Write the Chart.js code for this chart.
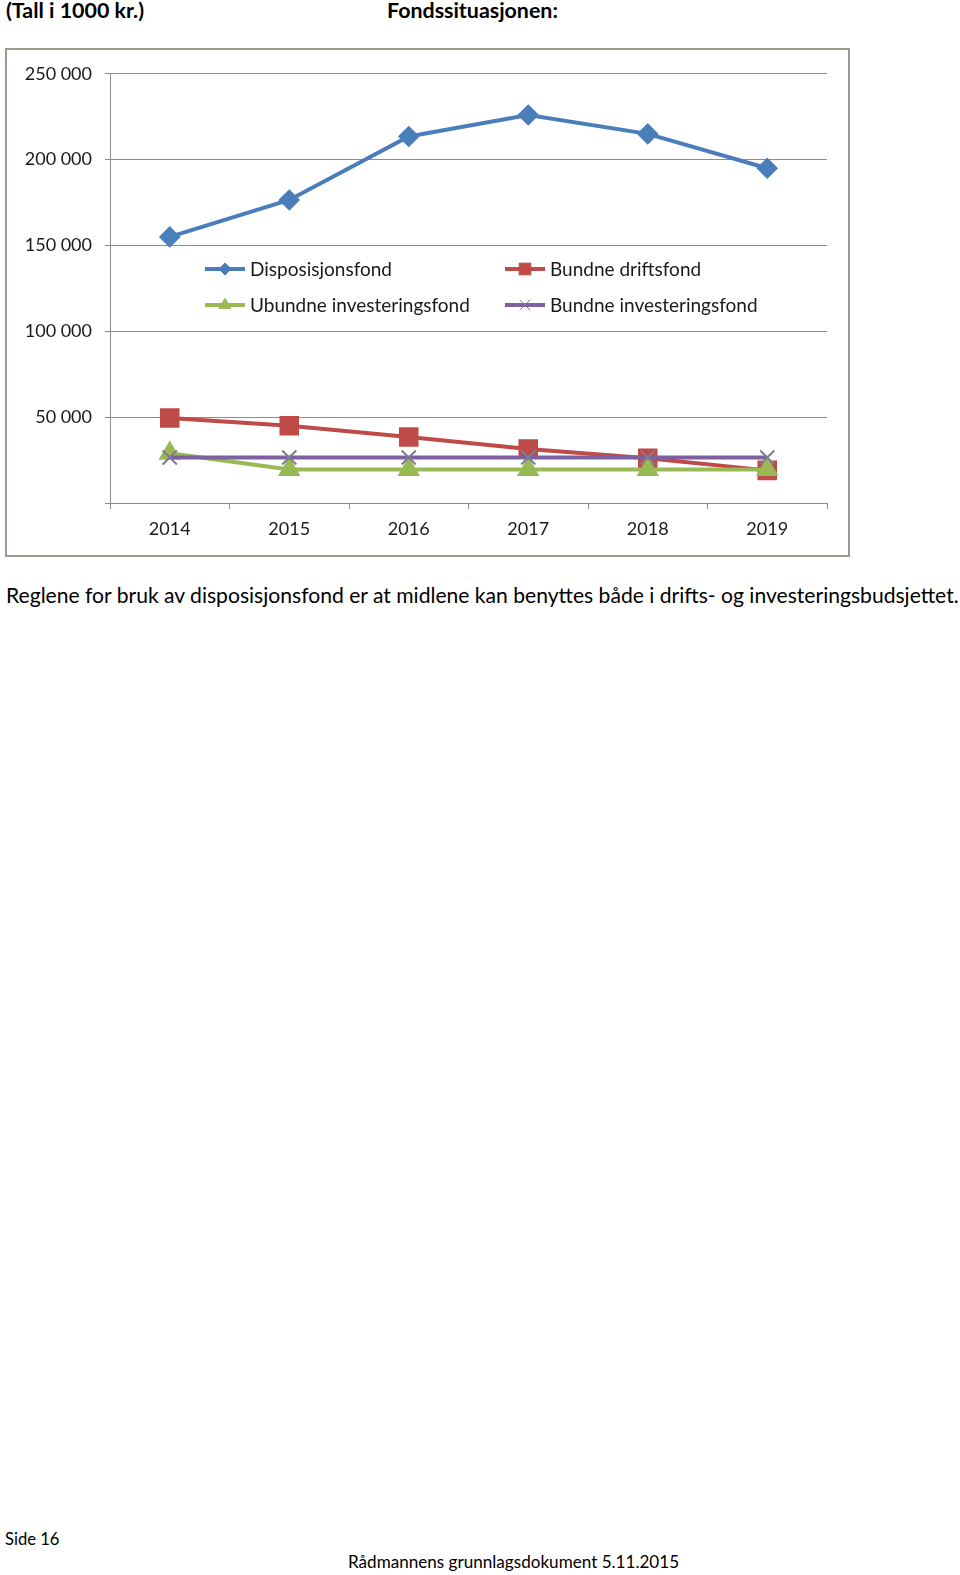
<!DOCTYPE html>
<html>
<head>
<meta charset="utf-8">
<script src="https://cdn.jsdelivr.net/npm/chart.js@4/dist/chart.umd.min.js"></script>
<style>
  body { margin: 0; background: #fff; width: 960px; height: 1575px; position: relative; overflow: hidden; font-family: Lato, 'Open Sans', sans-serif; color: #000; }
  .txt { position: absolute; white-space: nowrap; }
  .bold { font-weight: bold; }
  #frame { position: absolute; left: 5px; top: 48px; width: 841px; height: 505px; border: 2px solid #9c9a8e; }
  #chart { display: block; }
</style>
</head>
<body>
<div class="txt bold" style="left:6px; top:-3px; font-size:21.4px;">(Tall i 1000 kr.)</div>
<div class="txt bold" style="left:387px; top:-3px; font-size:21.4px;">Fondssituasjonen:</div>

<div id="frame"><canvas id="chart" width="841" height="505"></canvas></div>

<div class="txt" id="para" style="left:6px; top:582px; font-size:21.1px;">Reglene for bruk av disposisjonsfond er at midlene kan benyttes både i drifts- og investeringsbudsjettet.</div>

<div class="txt" style="left:5px; top:1529px; font-size:16.6px;">Side 16</div>
<div class="txt" style="left:348px; top:1551px; font-size:17.1px;">Rådmannens grunnlagsdokument 5.11.2015</div>

<script>
// years on the x axis
const years = ['2014', '2015', '2016', '2017', '2018', '2019']

// fund balances (1000 kr)
const disposisjonsfond = [155000, 176500, 213500, 226000, 215000, 195000]
const bundneDriftsfond = [49500, 45000, 38500, 31500, 26000, 19000]
const ubundneInvestering = [29000, 19500, 19500, 19500, 19500, 19500]
const bundneInvestering = [26500, 26500, 26500, 26500, 26500, 26500]

const seriesNames = ['Disposisjonsfond', 'Bundne driftsfond', 'Ubundne investeringsfond', 'Bundne investeringsfond']
const yTicks = [0, 50000, 100000, 150000, 200000, 250000]

const colors = {
  blue: '#4a7ebb',
  red: '#be4b48',
  green: '#98b954',
  purple: '#7d60a0',
  cross: '#7f7a96',
  grid: '#8c8c8c',
}

const font = { family: 'Lato', size: 18 }

function fmt(v) {
  return String(v).replace(/\B(?=(\d{3})+(?!\d))/g, ' ')
}

// legend drawn inside the plot, two columns, like the original
const insideLegend = {
  id: 'insideLegend',
  afterDatasetsDraw(chart) {
    const ctx = chart.ctx
    const spots = [
      [0, 198, 219],
      [1, 498, 219],
      [2, 198, 255],
      [3, 498, 255],
    ]
    ctx.save()
    ctx.font = '19px Lato'
    ctx.textBaseline = 'middle'
    spots.forEach(([i, x, y]) => {
      const ds = chart.data.datasets[i]
      ctx.strokeStyle = ds.borderColor
      ctx.lineWidth = 4
      ctx.beginPath()
      ctx.moveTo(x, y)
      ctx.lineTo(x + 40, y)
      ctx.stroke()
      ctx.fillStyle = ds.pointBackgroundColor
      ctx.strokeStyle = ds.pointBorderColor
      ctx.lineWidth = 1
      Chart.helpers.drawPoint(ctx, { pointStyle: ds.pointStyle, radius: ds.pointRadius * 0.75, borderWidth: 1 }, x + 20, y)
      ctx.fillStyle = '#1a1a1a'
      ctx.fillText(ds.label, x + 45, y + 1)
    })
    ctx.restore()
  },
}

const ctx = document.getElementById('chart').getContext('2d')
new Chart(ctx, {
  type: 'line',
  data: {
    labels: years,
    datasets: [
      {
        label: seriesNames[0],
        data: disposisjonsfond,
        borderColor: colors.blue,
        borderWidth: 4,
        pointStyle: 'rectRot',
        pointRadius: 8,
        pointBackgroundColor: colors.blue,
        pointBorderColor: colors.blue,
        order: 4,
      },
      {
        label: seriesNames[1],
        data: bundneDriftsfond,
        borderColor: colors.red,
        borderWidth: 4,
        pointStyle: 'rect',
        pointRadius: 11,
        pointBackgroundColor: colors.red,
        pointBorderColor: colors.red,
        order: 3,
      },
      {
        label: seriesNames[2],
        data: ubundneInvestering,
        borderColor: colors.green,
        borderWidth: 4,
        pointStyle: 'triangle',
        pointRadius: 9,
        pointBackgroundColor: colors.green,
        pointBorderColor: colors.green,
        order: 2,
      },
      {
        label: seriesNames[3],
        data: bundneInvestering,
        borderColor: colors.purple,
        borderWidth: 4,
        pointStyle: 'crossRot',
        pointRadius: 10,
        pointBorderWidth: 2,
        pointBackgroundColor: colors.cross,
        pointBorderColor: colors.cross,
        order: 1,
      },
    ],
  },
  options: {
    responsive: false,
    animation: false,
    tension: 0,
    layout: { padding: { top: 21, right: 21, left: 0, bottom: 0 } },
    plugins: {
      legend: { display: false },
      tooltip: { enabled: false },
    },
    scales: {
      x: {
        offset: true,
        grid: {
          offset: true,
          drawOnChartArea: false,
          drawTicks: true,
          tickLength: 6,
          color: colors.grid,
        },
        border: { color: colors.grid, width: 1 },
        ticks: { font: font, color: '#1a1a1a', padding: 9 },
        afterFit(scale) { scale.height = 52 },
      },
      y: {
        min: 0,
        max: 250000,
        afterBuildTicks(scale) { scale.ticks = yTicks.map(v => ({ value: v })) },
        grid: { color: colors.grid, tickLength: 5, drawTicks: true },
        border: { color: colors.grid, width: 1 },
        ticks: {
          font: font,
          color: '#1a1a1a',
          padding: 13,
          callback: v => (v === 0 ? '' : fmt(v)),
        },
        afterFit(scale) { scale.width = 103 },
      },
    },
  },
  plugins: [insideLegend],
})
</script>
</body>
</html>
